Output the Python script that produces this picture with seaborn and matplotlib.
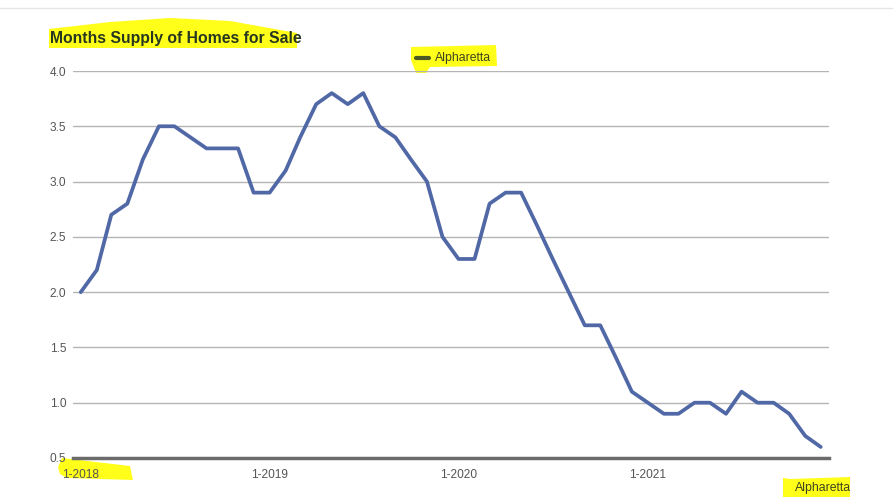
import matplotlib
matplotlib.use('Agg')
import matplotlib.pyplot as plt
import matplotlib.dates as mdates
from matplotlib.patches import Polygon
import seaborn as sns
import pandas as pd

# monthly months-of-supply, Jan 2018 .. Dec 2021
months = pd.date_range('2018-01-01', '2021-12-01', freq='MS')
supply_2018 = [2.0, 2.2, 2.7, 2.8, 3.2, 3.5, 3.5, 3.4, 3.3, 3.3, 3.3, 2.9]
supply_2019 = [2.9, 3.1, 3.4, 3.7, 3.8, 3.7, 3.8, 3.5, 3.4, 3.2, 3.0, 2.5]
supply_2020 = [2.3, 2.3, 2.8, 2.9, 2.9, 2.6, 2.3, 2.0, 1.7, 1.7, 1.4, 1.1]
supply_2021 = [1.0, 0.9, 0.9, 1.0, 1.0, 0.9, 1.1, 1.0, 1.0, 0.9, 0.7, 0.6]
y_ticks = [0.5, 1.0, 1.5, 2.0, 2.5, 3.0, 3.5, 4.0]
x_ticks = ['2018-01-01', '2019-01-01', '2020-01-01', '2021-01-01']
city = 'Alpharetta'

df = pd.DataFrame({
    'month': months,
    'supply': supply_2018 + supply_2019 + supply_2020 + supply_2021,
})

sns.set_style('white')
plt.rcParams['font.family'] = ['Liberation Sans', 'DejaVu Sans']

W, H = 893, 499
fig = plt.figure(figsize=(W / 100, H / 100), dpi=100)
ax = fig.add_axes([73 / W, 1 - 458 / H, (829 - 73) / W, (458 - 71) / H])
ax.set_zorder(2)


def px(pts):
    return [(x / W, 1 - y / H) for x, y in pts]


# yellow highlighter strokes
marker = '#ffff1a'
for shape in [
    [(49, 29), (110, 22), (170, 18), (230, 21), (297, 33), (297, 48), (49, 48)],
    [(411, 47), (496, 45), (497, 66), (430, 67), (426, 73), (416, 73), (411, 60)],
    [(58, 467), (62, 458), (130, 466), (133, 480), (67, 478), (60, 474)],
    [(783, 478), (790, 479), (850, 477), (850, 497), (783, 497)],
]:
    fig.patches.append(Polygon(px(shape), closed=True, transform=fig.transFigure,
                               facecolor=marker, edgecolor='none', zorder=0))

sns.lineplot(data=df, x='month', y='supply', ax=ax, color='#5068a6',
             linewidth=2.7, legend=False, zorder=3)

ax.set_xlim(pd.Timestamp('2017-12-17'), pd.Timestamp('2021-12-17'))
ax.set_ylim(0.5, 4.0)
ax.set_yticks(y_ticks)
ax.set_yticklabels([f'{v:.1f}' for v in y_ticks])
ax.set_xticks(pd.to_datetime(x_ticks))
ax.xaxis.set_major_formatter(mdates.DateFormatter('%-m-%Y'))
ax.grid(axis='y', color='#b4b4b4', linewidth=1)
ax.set_axisbelow(True)
for s in ['top', 'right', 'left']:
    ax.spines[s].set_visible(False)
ax.spines['bottom'].set_color('#6b6b6b')
ax.spines['bottom'].set_linewidth(2.5)
ax.spines['bottom'].set_zorder(4)
ax.tick_params(axis='x', direction='out', length=5, width=1.2, color='#6b6b6b',
               labelsize=8.6, labelcolor='#555555', pad=3)
ax.tick_params(axis='y', length=0, labelsize=8.6, labelcolor='#555555', pad=5)
ax.set_xlabel('')
ax.set_ylabel('')
ax.patch.set_alpha(0)

fig.text(50 / W, 1 - 39 / H, 'Months Supply of Homes for Sale', fontsize=11.3,
         fontweight='bold', color='#27361f', va='center', ha='left', zorder=3)
fig.lines.append(plt.Line2D([416 / W, 429 / W], [1 - 58 / H, 1 - 58 / H],
                            transform=fig.transFigure, color='#4a5a22', linewidth=3, zorder=3))
fig.text(435 / W, 1 - 58 / H, city, fontsize=8.8, color='#3c4420', va='center',
         ha='left', zorder=3)
fig.text(795 / W, 1 - 488 / H, city, fontsize=8.8, color='#3c4420', va='center',
         ha='left', zorder=3)
fig.lines.append(plt.Line2D([0, 1], [1 - 8 / H, 1 - 8 / H], transform=fig.transFigure,
                            color='#e6e6e6', linewidth=1))

fig.savefig('out.png', dpi=100)
